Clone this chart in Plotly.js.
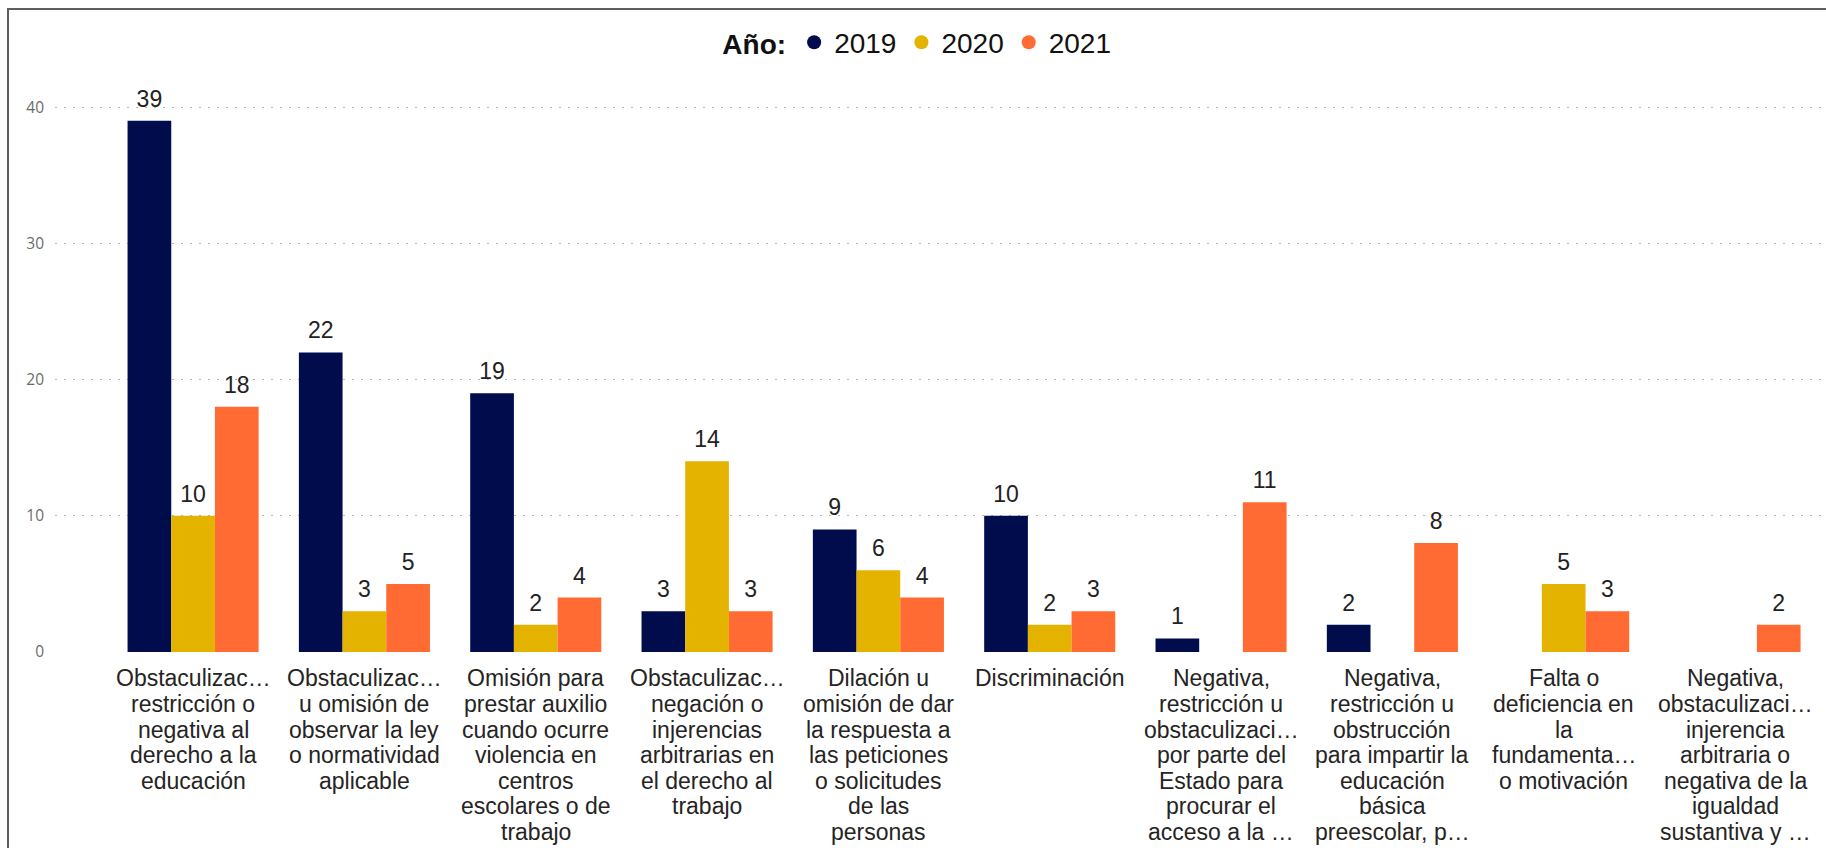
<!DOCTYPE html>
<html>
<head>
<meta charset="utf-8">
<script src="https://cdn.plot.ly/plotly-3.0.1.min.js"></script>
<style>
  html, body { margin: 0; padding: 0; background: #ffffff; overflow: hidden; }
  #chart { position: absolute; left: 0; top: 0; width: 1826px; height: 848px; }
  #frame { position: absolute; left: 7px; top: 8px; width: 1900px; height: 900px;
           border: 2px solid #5f5f5f; pointer-events: none; box-sizing: border-box; }
</style>
</head>
<body>
<div id="chart"></div>
<div id="frame"></div>
<script>
const categories = [
  "Obstaculizac…<br>restricción o<br>negativa al<br>derecho a la<br>educación",
  "Obstaculizac…<br>u omisión de<br>observar la ley<br>o normatividad<br>aplicable",
  "Omisión para<br>prestar auxilio<br>cuando ocurre<br>violencia en<br>centros<br>escolares o de<br>trabajo",
  "Obstaculizac…<br>negación o<br>injerencias<br>arbitrarias en<br>el derecho al<br>trabajo",
  "Dilación u<br>omisión de dar<br>la respuesta a<br>las peticiones<br>o solicitudes<br>de las<br>personas",
  "Discriminación",
  "Negativa,<br>restricción u<br>obstaculizaci…<br>por parte del<br>Estado para<br>procurar el<br>acceso a la …",
  "Negativa,<br>restricción u<br>obstrucción<br>para impartir la<br>educación<br>básica<br>preescolar, p…",
  "Falta o<br>deficiencia en<br>la<br>fundamenta…<br>o motivación",
  "Negativa,<br>obstaculizaci…<br>injerencia<br>arbitraria o<br>negativa de la<br>igualdad<br>sustantiva y …"
];
const seriesNames = ["2019", "2020", "2021"];
const values2019 = [39, 22, 19, 3, 9, 10, 1, 2, null, null];
const values2020 = [10, 3, 2, 14, 6, 2, null, null, 5, null];
const values2021 = [18, 5, 4, 3, 4, 3, 11, 8, 3, 2];
const colors = ["#000C4C", "#E4B300", "#FF6B33"];
const yTicks = [0, 10, 20, 30, 40];
const legendTitle = "Año:";

const allValues = [values2019, values2020, values2021];
const font = "Arial, 'Liberation Sans', sans-serif";

const traces = [];
// bars
allValues.forEach((vals, i) => {
  traces.push({
    type: "bar",
    name: seriesNames[i],
    x: categories,
    y: vals,
    offsetgroup: "s" + i,
    marker: { color: colors[i], line: { width: 0 } },
    showlegend: false,
    hoverinfo: "x+y+name"
  });
});
// data labels (grouped scatter aligned with bars)
allValues.forEach((vals, i) => {
  traces.push({
    type: "scatter",
    mode: "markers+text",
    name: seriesNames[i],
    x: categories,
    y: vals,
    offsetgroup: "s" + i,
    marker: { size: 11.5, opacity: 0, color: colors[i] },
    text: vals.map(v => v === null ? "" : String(v)),
    textposition: "top center",
    textfont: { family: font, size: 23, color: "#222222" },
    cliponaxis: false,
    showlegend: false,
    hoverinfo: "skip"
  });
});
// legend entries with round markers
allValues.forEach((vals, i) => {
  traces.push({
    type: "scatter",
    mode: "markers",
    name: seriesNames[i],
    x: [null],
    y: [null],
    offsetgroup: "s" + i,
    marker: { color: colors[i], size: 14, symbol: "circle" },
    showlegend: true,
    hoverinfo: "skip"
  });
});

// category labels, one text line each (tight line spacing like the original)
const annotations = [];
categories.forEach((cat) => {
  cat.split("<br>").forEach((line, li) => {
    annotations.push({
      x: cat,
      xref: "x",
      y: 0,
      yref: "paper",
      yanchor: "middle",
      xanchor: "center",
      yshift: -26.3 - 25.6 * li,
      text: line,
      showarrow: false,
      font: { family: font, size: 23, color: "#252423" }
    });
  });
});

const layout = {
  width: 1826,
  height: 848,
  paper_bgcolor: "#ffffff",
  plot_bgcolor: "#ffffff",
  margin: { l: 55, r: 0, t: 79.5, b: 196 },
  barmode: "group",
  bargap: 0.235,
  bargroupgap: 0,
  scattermode: "group",
  scattergap: 0.235,
  showlegend: true,
  legend: {
    orientation: "h",
    x: 0.4875,
    xanchor: "center",
    y: 1.0655,
    yanchor: "middle",
    font: { family: font, size: 28, color: "#111111" },
    title: { text: "<b>" + legendTitle + "</b>", font: { family: font, size: 28, color: "#111111" }, side: "left" },
    itemwidth: 30,
    tracegroupgap: 0,
    bgcolor: "rgba(0,0,0,0)"
  },
  annotations: annotations,
  xaxis: {
    type: "category",
    categoryorder: "array",
    categoryarray: categories,
    range: [-0.806, 9.531],
    showgrid: false,
    zeroline: false,
    showline: false,
    ticks: "",
    showticklabels: false,
    fixedrange: true
  },
  yaxis: {
    range: [0, 42],
    tickvals: yTicks,
    ticktext: yTicks.map(String),
    showgrid: true,
    gridcolor: "#b5b5b5",
    gridwidth: 1,
    griddash: "2px,7px",
    zeroline: false,
    showline: false,
    ticks: "",
    ticklabelstandoff: 10,
    tickfont: { family: "'Open Sans', 'Noto Sans', sans-serif", size: 15.5, color: "#6b6b6b" },
    fixedrange: true
  }
};

Plotly.newPlot("chart", traces, layout, { displayModeBar: false, staticPlot: true });
</script>
</body>
</html>
